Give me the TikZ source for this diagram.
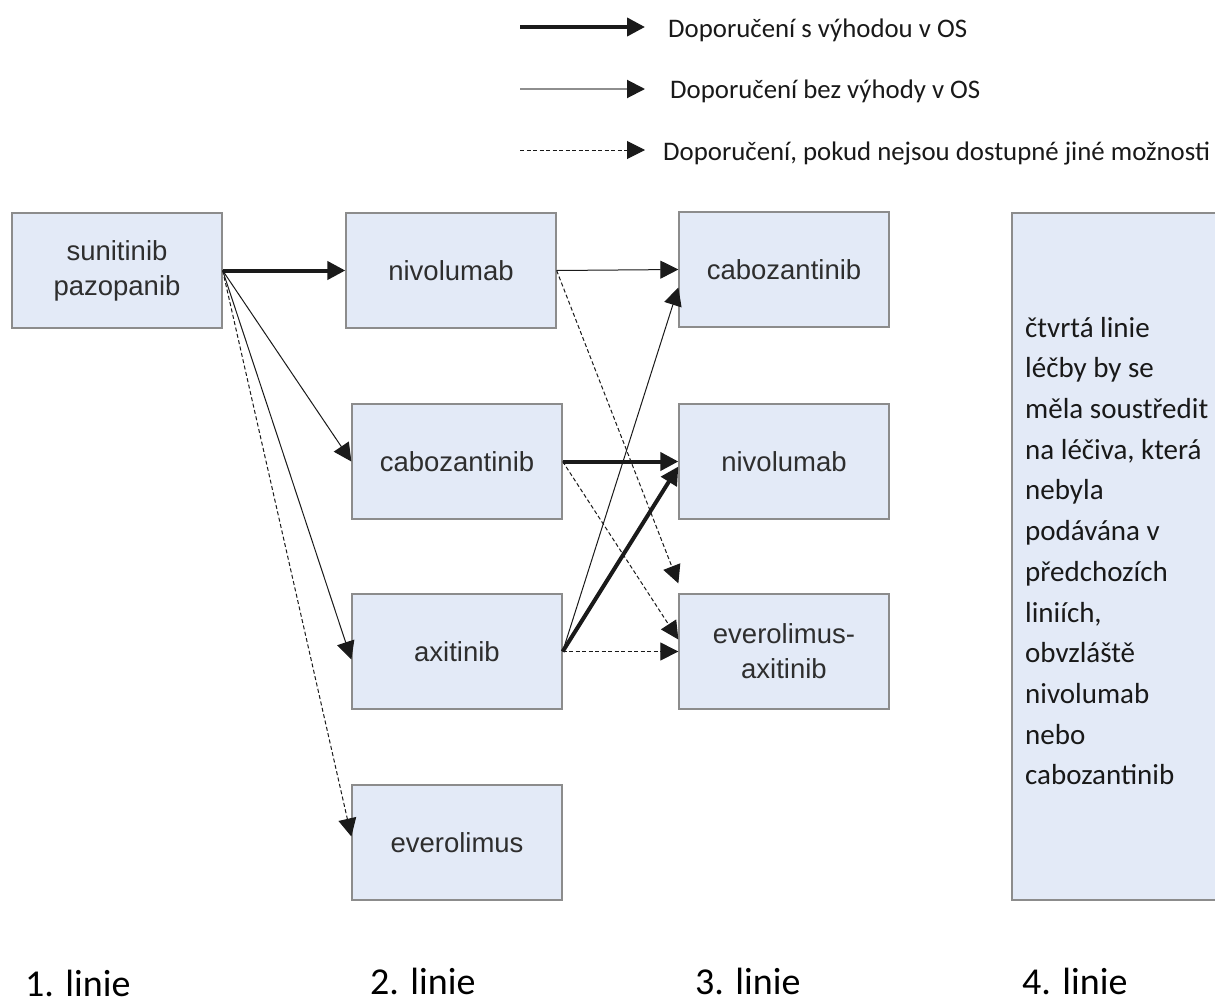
\documentclass[tikz,border=0pt]{standalone}
\usepackage{fontspec}
\setmainfont{Liberation Sans}
\newfontfamily\calfont{Carlito}
\usetikzlibrary{arrows.meta}
\definecolor{boxfill}{HTML}{E3EAF7}
\definecolor{boxborder}{HTML}{8C8C8C}
\definecolor{textgray}{HTML}{2E2E2E}
\definecolor{arrowcol}{HTML}{1A1A1A}
\definecolor{legendgray}{HTML}{8E8E8E}
\begin{document}
\begin{tikzpicture}[x=1pt,y=-1pt,
  box/.style={draw=boxborder, fill=boxfill, line width=1.3pt, minimum width=210pt, minimum height=115pt,
    inner sep=0pt, align=center, font=\fontsize{27.5}{35}\selectfont, text=textgray},
  tipstyle/.style={-{Triangle[length=18pt,width=18pt,color=arrowcol]}},
  thickarr/.style={tipstyle, line width=4pt, draw=arrowcol},
  thinarr/.style={tipstyle, line width=1pt, draw=arrowcol},
  dasharr/.style={thinarr, dash pattern=on 4pt off 2.5pt},
  legtext/.style={anchor=west, inner sep=0pt, font=\calfont\fontsize{26.8}{32}\selectfont, text=black!90},
  linelabel/.style={anchor=base west, inner sep=0pt, font=\calfont\fontsize{38}{44}\selectfont, text=black},
  fourthtext/.style={anchor=west, inner sep=0pt, align=left, font=\calfont\fontsize{29}{40.7}\selectfont, text=black!90}
]
\clip (0,0) rectangle (1215,1004);
\fill[white] (0,0) rectangle (1215,1004);

% legend
\coordinate (l1a) at (520,27);
\coordinate (l1b) at (645,27);
\coordinate (l2a) at (520,89);
\coordinate (l2b) at (645,89);
\coordinate (l3a) at (520,150);
\coordinate (l3b) at (645,150);
\draw[thickarr] (l1a) -- (l1b);
\draw[tipstyle, line width=2pt, draw=legendgray] (l2a) -- (l2b);
\draw[dasharr] (l3a) -- (l3b);
\node[legtext] (leg1) at (668,30) {Doporučení s výhodou v OS};
\node[legtext] (leg2) at (670,91) {Doporučení bez výhody v OS};
\node[legtext] (leg3) at (663,153) {Doporučení, pokud nejsou dostupné jiné možnosti};

% boxes
\node[box] (sun) at (117,270.5) {sunitinib\\pazopanib};
\node[box] (nivo2) at (451,270.5) {nivolumab};
\node[box] (cab2) at (457,461.5) {cabozantinib};
\node[box] (axi) at (457,651.5) {axitinib};
\node[box] (evr) at (457,842.5) {everolimus};
\node[box] (cab3) at (784,269.5) {cabozantinib};
\node[box] (nivo3) at (784,461.5) {nivolumab};
\node[box] (evax) at (784,651.5) {everolimus-\\axitinib};

\draw[draw=boxborder, fill=boxfill, line width=1.3pt] (1012,213) rectangle (1240,900);
\node[fourthtext] (fourth) at (1025,551) {čtvrtá linie\\léčby by se\\měla soustředit\\na léčiva, která\\nebyla\\podávána v\\předchozích\\liniích,\\obvzláště\\nivolumab\\nebo\\cabozantinib};

% line 1 -> line 2
\draw[thickarr] (sun.east) -- (nivo2.west);
\draw[thinarr] (sun.east) -- (cab2.west);
\draw[thinarr] (sun.east) -- ([yshift=-8pt]axi.west);
\draw[dasharr] (sun.east) -- ([yshift=6pt]evr.west);

% line 2 -> line 3
\draw[thinarr] (nivo2.east) -- (cab3.west);
\draw[dasharr] (nivo2.east) -- ([yshift=10pt]evax.north west);
\draw[thickarr] (cab2.east) -- (nivo3.west);
\draw[dasharr] (cab2.east) -- ([yshift=12pt]evax.west);
\draw[thinarr] (axi.east) -- ([yshift=-18pt]cab3.west);
\draw[thickarr] (axi.east) -- ([yshift=-5pt]nivo3.west);
\draw[dasharr] (axi.east) -- (evax.west);

% line labels
\node[linelabel] (lab1) at (25,996) {1. linie};
\node[linelabel] (lab2) at (370,994) {2. linie};
\node[linelabel] (lab3) at (695,994) {3. linie};
\node[linelabel] (lab4) at (1022,994) {4. linie};
\end{tikzpicture}
\end{document}
